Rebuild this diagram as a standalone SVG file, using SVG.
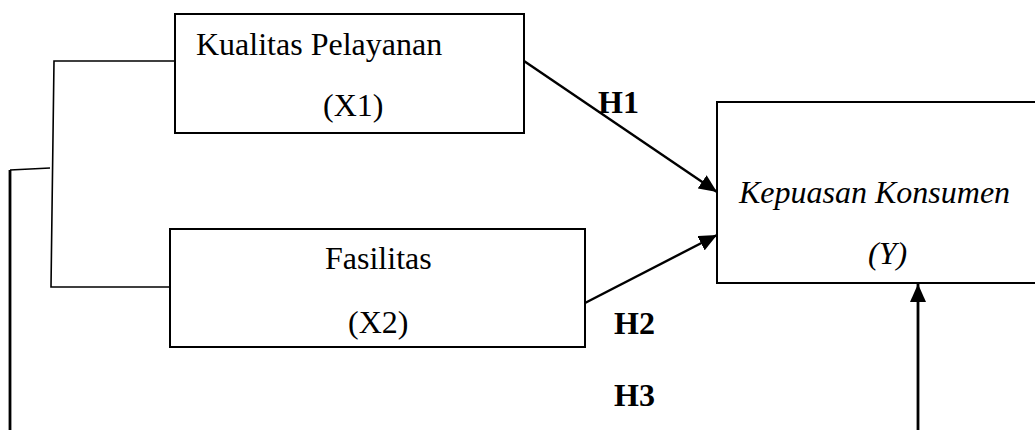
<svg xmlns="http://www.w3.org/2000/svg" width="1035" height="430" viewBox="0 0 1035 430">
<style>
.box{fill:#fff;stroke:#000;stroke-width:2}
.t{font-family:"Liberation Serif","Times New Roman",serif;font-size:32px;fill:#000}
.i{font-style:italic}
.b{font-weight:bold}
.c{fill:none;stroke:#000;stroke-width:2.4}
.thin{fill:none;stroke:#000;stroke-width:1.6}
.thick{fill:none;stroke:#000;stroke-width:2.8}
</style>
<defs>
<marker id="ah" markerUnits="userSpaceOnUse" markerWidth="19" markerHeight="16" refX="18" refY="8" orient="auto">
<path d="M0,0 L18,8 L0,16 z" fill="#000"/>
</marker>
</defs>
<rect width="1035" height="430" fill="#fff"/>
<g id="connectors">
<path class="thin" d="M174,61 H54 L51,287 H174"/>
<path class="thin" d="M50,168 L10,170"/>
<path class="thick" d="M10,170 V430"/>
<line class="c" x1="524" y1="61" x2="717" y2="192" marker-end="url(#ah)"/>
<line class="c" x1="585" y1="303" x2="717" y2="235" marker-end="url(#ah)"/>
<line class="thick" x1="918" y1="430" x2="918" y2="284" marker-end="url(#ah)"/>
</g>
<g id="x1">
<rect class="box" x="175" y="14" width="349" height="119"/>
<text class="t" x="196" y="55">Kualitas Pelayanan</text>
<text class="t" x="323" y="116">(X1)</text>
</g>
<g id="x2">
<rect class="box" x="170" y="229" width="415" height="118"/>
<text class="t" x="325" y="269">Fasilitas</text>
<text class="t" x="348" y="333">(X2)</text>
</g>
<g id="y">
<rect class="box" x="717" y="102" width="330" height="181"/>
<text class="t i" x="739" y="203">Kepuasan Konsumen</text>
<text class="t i" x="868" y="264">(Y)</text>
</g>
<g id="labels">
<text class="t b" x="598" y="113">H1</text>
<text class="t b" x="614" y="334">H2</text>
<text class="t b" x="614" y="406">H3</text>
</g>
</svg>
